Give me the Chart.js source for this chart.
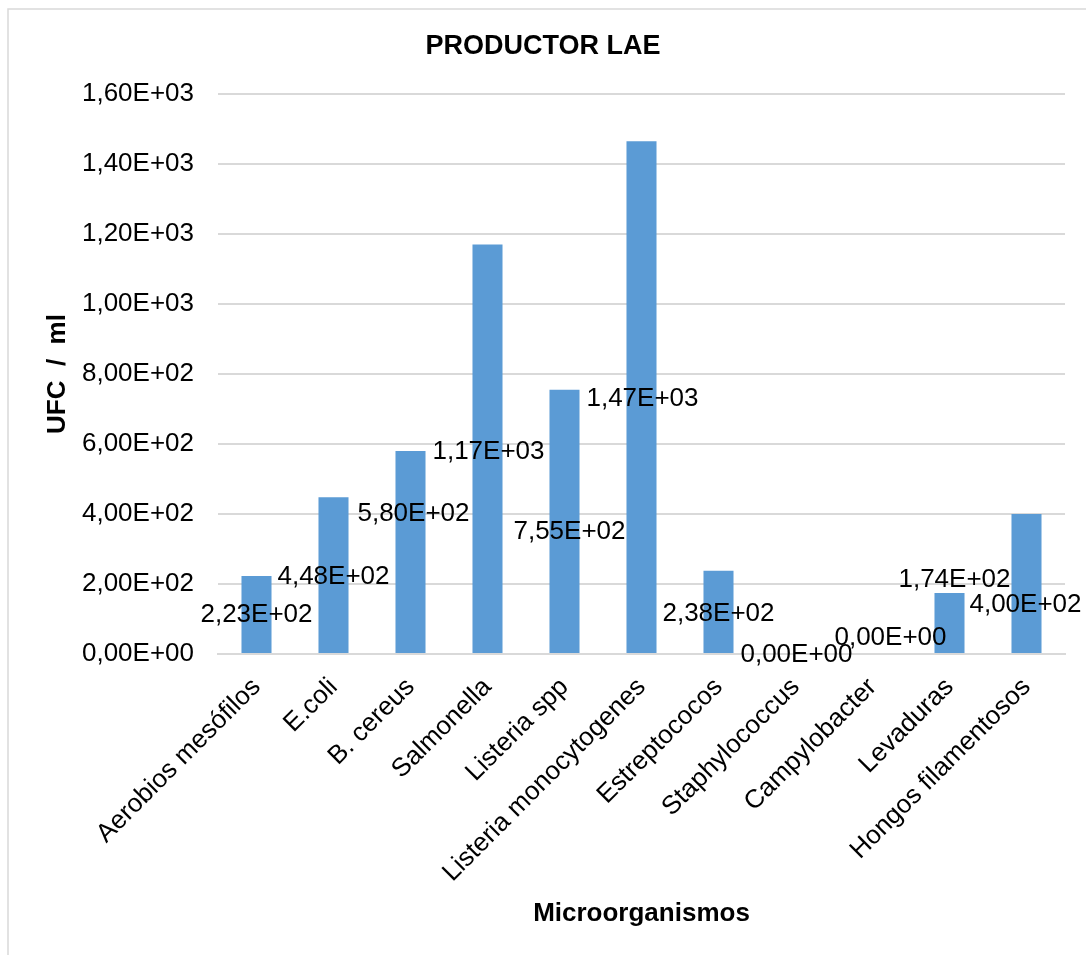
<!DOCTYPE html>
<html>
<head>
<meta charset="utf-8">
<script src="https://cdn.jsdelivr.net/npm/chart.js@4.4.1/dist/chart.umd.min.js"></script>
<style>
  html, body { margin: 0; padding: 0; background: #ffffff; }
  #wrap { width: 1086px; height: 955px; position: relative; }
</style>
</head>
<body>
<div id="wrap"><canvas id="c" width="1086" height="955"></canvas></div>
<script>
// Categories (microorganisms) and counts in UFC/ml
const categories = [
  'Aerobios mesófilos', 'E.coli', 'B. cereus', 'Salmonella', 'Listeria spp',
  'Listeria monocytogenes', 'Estreptococos', 'Staphylococcus', 'Campylobacter',
  'Levaduras', 'Hongos filamentosos'
];
const ufcValues = [223, 448, 580, 1170, 755, 1465, 238, 0, 0, 174, 400];

// Y axis range and tick step
const yMin = 0;
const yMax = 1600;
const yStep = 200;

// Hand-placed data label offsets from the top centre of each bar (px)
const labelOffsets = [
  [0, 39], [0, 80], [3, 63], [1, 207], [5, 142], [1, 258],
  [0, 43], [1, 1], [18, -16], [5, -13], [-1, 91]
];

// Spreadsheet-style scientific notation with a decimal comma: 1,60E+03
function sci(v) {
  if (v === 0) return '0,00E+00';
  let e = Math.floor(Math.log10(Math.abs(v)));
  let m = v / Math.pow(10, e);
  if (Math.abs(m).toFixed(2) === '10.00') { m /= 10; e += 1; }
  return m.toFixed(2).replace('.', ',') + 'E' + (e < 0 ? '-' : '+') + String(Math.abs(e)).padStart(2, '0');
}

const FONT = "'Liberation Sans', Arial, sans-serif";

// Light frame around the chart object
const framePlugin = {
  id: 'frame',
  beforeDraw(chart) {
    const ctx = chart.ctx;
    ctx.save();
    ctx.strokeStyle = '#d9d9d9';
    ctx.lineWidth = 1.5;
    ctx.strokeRect(8, 9, 2000, 2000);
    ctx.restore();
  }
};

// Value labels drawn next to each bar
const valueLabels = {
  id: 'valueLabels',
  afterDatasetsDraw(chart, args, opts) {
    const ctx = chart.ctx;
    const meta = chart.getDatasetMeta(0);
    ctx.save();
    ctx.font = opts.font;
    ctx.fillStyle = opts.color;
    ctx.textAlign = 'center';
    ctx.textBaseline = 'middle';
    meta.data.forEach((bar, i) => {
      const v = chart.data.datasets[0].data[i];
      const off = opts.offsets[i] || [0, 0];
      ctx.fillText(sci(v), bar.x + off[0], bar.y + off[1]);
    });
    ctx.restore();
  }
};

new Chart(document.getElementById('c'), {
  type: 'bar',
  data: {
    labels: categories,
    datasets: [{
      label: 'UFC / ml',
      data: ufcValues,
      backgroundColor: '#5b9bd5',
      borderWidth: 0,
      categoryPercentage: 1.0,
      barPercentage: 0.39
    }]
  },
  options: {
    responsive: false,
    animation: false,
    devicePixelRatio: 1,
    layout: { padding: 0 },
    plugins: {
      legend: { display: false },
      tooltip: { enabled: false },
      title: {
        display: true,
        text: 'PRODUCTOR LAE',
        color: '#000000',
        font: { family: FONT, size: 27, weight: 'bold', lineHeight: 1.2 },
        padding: { top: 30, bottom: 31.6 }
      },
      valueLabels: {
        font: '26px ' + FONT,
        color: '#000000',
        offsets: labelOffsets
      }
    },
    scales: {
      x: {
        grid: { display: false, drawTicks: false },
        border: { display: true, color: '#d9d9d9', width: 2 },
        ticks: {
          autoSkip: false,
          minRotation: 45,
          maxRotation: 45,
          padding: 18,
          color: '#000000',
          font: { family: FONT, size: 26 }
        },
        title: {
          display: true,
          text: 'Microorganismos',
          color: '#000000',
          font: { family: FONT, size: 26, weight: 'bold', lineHeight: 1.2 },
          padding: { top: 0, bottom: 26 }
        },
        afterFit(scale) { scale.height = 301; }
      },
      y: {
        min: yMin,
        max: yMax,
        grid: { color: '#d9d9d9', lineWidth: 2, drawTicks: false },
        border: { display: false },
        ticks: {
          stepSize: yStep,
          padding: 24,
          color: '#000000',
          font: { family: FONT, size: 26 },
          callback: (v) => sci(v)
        },
        title: {
          display: true,
          text: 'UFC  /  ml',
          color: '#000000',
          font: { family: FONT, size: 26, weight: 'bold', lineHeight: 1.2 },
          padding: { top: 42, bottom: 0 }
        },
        afterFit(scale) { scale.width = 218; }
      },
      // Empty right-hand margin beside the plot area
      yRight: {
        type: 'linear',
        position: 'right',
        grid: { display: false, drawTicks: false },
        border: { display: false },
        ticks: { display: false },
        afterFit(scale) { scale.width = 21; }
      }
    }
  },
  plugins: [framePlugin, valueLabels]
});
</script>
</body>
</html>
